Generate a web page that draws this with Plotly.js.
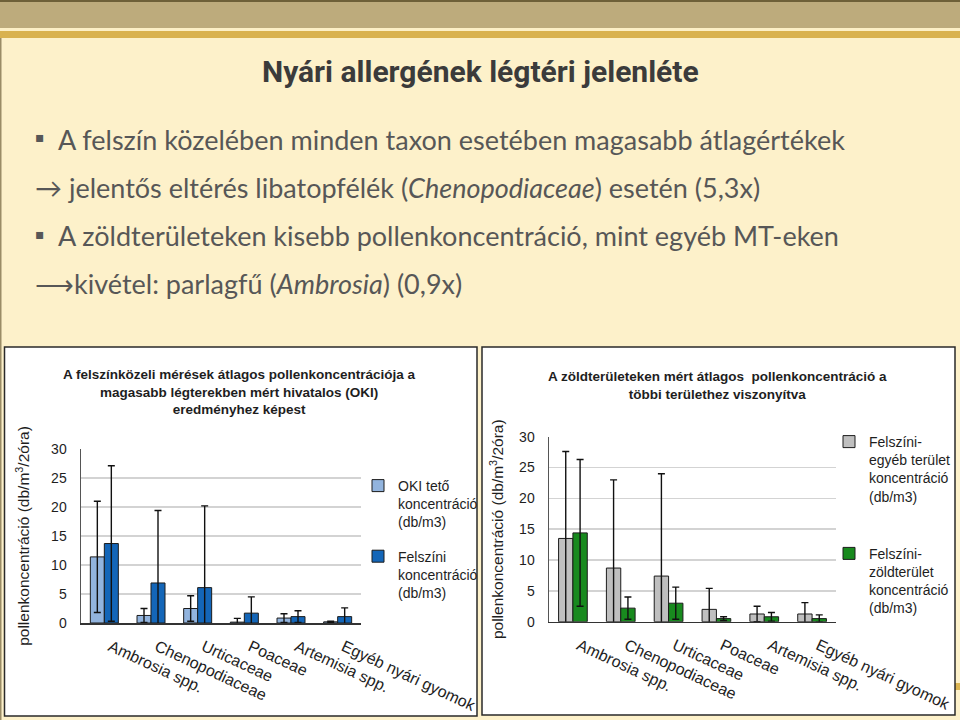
<!DOCTYPE html>
<html>
<head>
<meta charset="utf-8">
<script src="https://cdn.plot.ly/plotly-3.0.1.min.js"></script>
<style>html,body{margin:0;padding:0;background:#fdf1ca;}#chart{width:960px;height:720px;}</style>
</head>
<body>
<div id="chart"></div>
<script>
// ---- data ----
const categories = ['Ambrosia spp.', 'Chenopodiaceae', 'Urticaceae', 'Poaceae', 'Artemisia spp.', 'Egyéb nyári gyomok'];
const okiTeto = [11.4, 1.3, 2.5, 0.15, 0.85, 0.2];
const okiTetoErr = [9.6, 1.2, 2.2, 0.65, 0.75, 0.1];
const felszini = [13.7, 6.9, 6.1, 1.7, 1.1, 1.1];
const felsziniErr = [13.4, 12.5, 14.1, 2.8, 1.0, 1.5];
const egyebTerulet = [13.5, 8.7, 7.4, 2.0, 1.25, 1.25];
const egyebTeruletErr = [14.1, 14.3, 16.6, 3.4, 1.25, 1.85];
const zoldterulet = [14.4, 2.2, 3.0, 0.5, 0.8, 0.5];
const zoldteruletErr = [11.9, 1.8, 2.6, 0.3, 0.7, 0.6];
const yTicks = [0, 5, 10, 15, 20, 25, 30];

const W = 960, H = 720;
const px = x => x / W;
const py = y => 1 - y / H;
const FONT = 'Liberation Sans, Arial, sans-serif';
const TXT = '#1e1e1e';

function errBar(arr) {
  return {type: 'data', array: arr, visible: true, color: '#111', thickness: 1.4, width: 3.5};
}
const barLine = {color: '#1c1c1c', width: 1};

const traces = [
  {type: 'bar', x: categories, y: okiTeto, name: 'OKI tető<br>koncentráció<br>(db/m3)',
   marker: {color: '#92b4de', line: barLine}, error_y: errBar(okiTetoErr),
   xaxis: 'x', yaxis: 'y', legend: 'legend', legendgroup: 'a'},
  {type: 'bar', x: categories, y: felszini, name: 'Felszíni<br>koncentráció<br>(db/m3)',
   marker: {color: '#1466b8', line: barLine}, error_y: errBar(felsziniErr),
   xaxis: 'x', yaxis: 'y', legend: 'legend', legendgroup: 'b'},
  {type: 'bar', x: categories, y: egyebTerulet, name: 'Felszíni-<br>egyéb terület<br>koncentráció<br>(db/m3)',
   marker: {color: '#bfbfbf', line: barLine}, error_y: errBar(egyebTeruletErr),
   xaxis: 'x2', yaxis: 'y2', legend: 'legend2', legendgroup: 'c'},
  {type: 'bar', x: categories, y: zoldterulet, name: 'Felszíni-<br>zöldterület<br>koncentráció<br>(db/m3)',
   marker: {color: '#188a1e', line: barLine}, error_y: errBar(zoldteruletErr),
   xaxis: 'x2', yaxis: 'y2', legend: 'legend2', legendgroup: 'd'}
];

const yTitle = 'pollenkoncentráció (db/m<sup>3</sup>/2óra)';
function yAxis(domain, standoff) {
  return {domain: domain, range: [0, 30], tickvals: yTicks, showgrid: true, gridcolor: '#d3d3d3', gridwidth: 1.5,
    zeroline: false, showline: true, linecolor: '#555', linewidth: 1.5, ticks: '',
    ticklabelstandoff: 10, tickfont: {family: FONT, size: 14, color: TXT},
    title: {text: yTitle, font: {family: FONT, size: 15.5, color: TXT}, standoff: standoff}, fixedrange: true};
}
function xAxis(domain, anchor) {
  return {domain: domain, anchor: anchor, type: 'category', showline: true, linecolor: '#333', linewidth: 1.5,
    ticks: '', tickangle: 25, ticklabelstandoff: 7, ticklabelshift: 6, tickfont: {family: FONT, size: 16, color: TXT},
    showgrid: false, zeroline: false, fixedrange: true};
}

const shapes = [
  {type: 'rect', xref: 'paper', yref: 'paper', x0: 0, x1: 1, y0: py(0), y1: py(28), fillcolor: '#bdab7c', line: {width: 0}, layer: 'below'},
  {type: 'rect', xref: 'paper', yref: 'paper', x0: 0, x1: 1, y0: py(0), y1: py(2), fillcolor: '#6e6038', line: {width: 0}, layer: 'below'},
  {type: 'rect', xref: 'paper', yref: 'paper', x0: 0, x1: 1, y0: py(28), y1: py(31), fillcolor: '#fcefc6', line: {width: 0}, layer: 'below'},
  {type: 'rect', xref: 'paper', yref: 'paper', x0: 0, x1: 1, y0: py(31), y1: py(38), fillcolor: '#d9b24f', line: {width: 0}, layer: 'below'},
  {type: 'rect', xref: 'paper', yref: 'paper', x0: 0, x1: px(1.5), y0: py(38), y1: py(720), fillcolor: '#9a8c66', line: {width: 0}, layer: 'below'},
  {type: 'rect', xref: 'paper', yref: 'paper', x0: px(955), x1: 1, y0: py(683), y1: py(690), fillcolor: '#dcb552', line: {width: 0}, layer: 'below'},
  {type: 'rect', xref: 'paper', yref: 'paper', x0: px(4.5), x1: px(477), y0: py(347), y1: py(716), fillcolor: '#ffffff', line: {color: '#2a2a2a', width: 1.5}, layer: 'below'},
  {type: 'rect', xref: 'paper', yref: 'paper', x0: px(482), x1: px(955), y0: py(347), y1: py(715), fillcolor: '#ffffff', line: {color: '#2a2a2a', width: 1.5}, layer: 'below'}
];

const BUL = '#575757';
const BFONT = 'Lato, Open Sans, sans-serif';
const BSIZE = 27;
function ann(text, x, y, opts) {
  return Object.assign({xref: 'paper', yref: 'paper', x: px(x), y: py(y), text: text, showarrow: false,
    xanchor: 'left', yanchor: 'middle', font: {family: BFONT, size: BSIZE, color: BUL}}, opts || {});
}
const annotations = [
  ann('<b>Nyári allergének légtéri jelenléte</b>', 480, 72, {xanchor: 'center',
    font: {family: 'Liberation Sans Narrow, Roboto, Open Sans, sans-serif', size: 30, color: '#3b3b3b'}}),
  ann('▪', 33, 137, {font: {family: 'DejaVu Sans', size: 14, color: BUL}}),
  ann('A felszín közelében minden taxon esetében magasabb átlagértékek', 56, 139),
  ann('→ jelentős eltérés libatopfélék (<i>Chenopodiaceae</i>) esetén (5,3x)', 33, 188),
  ann('▪', 33, 234, {font: {family: 'DejaVu Sans', size: 14, color: BUL}}),
  ann('A zöldterületeken kisebb pollenkoncentráció, mint egyéb MT-eken', 56, 236),
  ann('⟶kivétel: parlagfű (<i>Ambrosia</i>) (0,9x)', 33, 284),
  ann('<b>A felszínközeli mérések átlagos pollenkoncentrációja a<br>magasabb légterekben mért hivatalos (OKI)<br>eredményhez képest</b>',
    239, 392, {xanchor: 'center', font: {family: FONT, size: 13.5, color: TXT}}),
  ann('<b>A zöldterületeken mért átlagos  pollenkoncentráció a<br>többi területhez viszonyítva</b>',
    717, 385, {xanchor: 'center', font: {family: FONT, size: 13.5, color: TXT}})
];

const legendBase = {font: {family: FONT, size: 14, color: TXT}, bgcolor: 'rgba(0,0,0,0)', borderwidth: 0,
  xanchor: 'left', yanchor: 'top', valign: 'top', traceorder: 'grouped', itemclick: false, itemdoubleclick: false};

const layout = {
  width: W, height: H, margin: {l: 0, r: 0, t: 0, b: 0},
  paper_bgcolor: '#fdf1ca', plot_bgcolor: 'rgba(0,0,0,0)',
  barmode: 'group', bargap: 0.4, bargroupgap: 0,
  xaxis: xAxis([px(81), px(361)], 'y'),
  yaxis: yAxis([py(623), py(449)], 17),
  xaxis2: xAxis([px(549), px(836)], 'y2'),
  yaxis2: Object.assign(yAxis([py(621.7), py(436.7)], 11), {anchor: 'x2'}),
  legend: Object.assign({}, legendBase, {x: px(358), y: py(470), tracegroupgap: 13}),
  legend2: Object.assign({}, legendBase, {x: px(829), y: py(426), tracegroupgap: 36}),
  shapes: shapes,
  annotations: annotations,
  font: {family: FONT, color: TXT}
};

Plotly.newPlot('chart', traces, layout, {staticPlot: true, displayModeBar: false});
</script>
</body>
</html>
